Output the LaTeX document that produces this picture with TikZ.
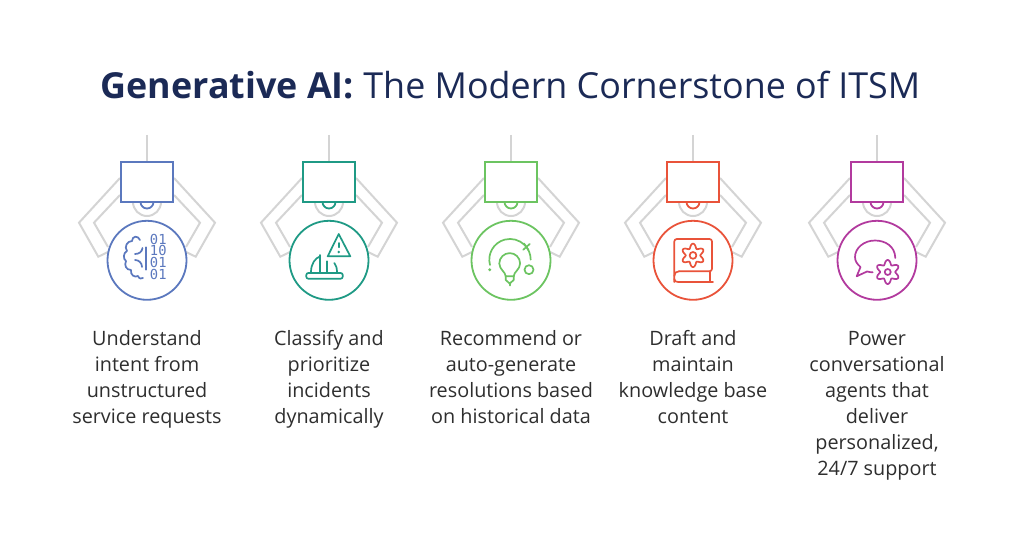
\documentclass[tikz,border=0pt]{standalone}
\usepackage{fontspec}
\setmainfont{Open Sans}
\newfontfamily\digitfont{DejaVu Sans Mono}
\definecolor{navy}{HTML}{1B2A56}
\definecolor{armgray}{HTML}{D4D4D4}
\definecolor{inkgray}{HTML}{2E2E2E}
\definecolor{gblue}{HTML}{5B78BE}
\definecolor{gteal}{HTML}{1F9A85}
\definecolor{ggreen}{HTML}{6CC461}
\definecolor{gred}{HTML}{E9533A}
\definecolor{gpurple}{HTML}{B23A9E}
\tikzset{
  arm/.style={armgray,line width=2pt,line join=miter},
  housing/.style={draw,fill=white,line width=1.8pt,minimum width=52.6pt,minimum height=39.4pt,inner sep=0pt},
  disc/.style={draw,fill=white,circle,line width=1.8pt,minimum size=79pt,inner sep=0pt},
  icon/.style={line width=1.7pt,line cap=round,line join=round},
  caption/.style={inkgray,anchor=north,align=center,font=\fontsize{19.8}{26}\selectfont,execute at begin node=\strut}
}
% six petal cog, centre and radius as arguments
\newcommand{\cogwheel}[4]{\draw[#1] plot[domain=0:360,samples=145,smooth] ({#2+(#4-2.2*cos(6*\x))*cos(\x)},{#3+(#4-2.2*cos(6*\x))*sin(\x)}) -- cycle;}
\begin{document}
\begin{tikzpicture}[x=1pt,y=-1pt]
\useasboundingbox (0,0) rectangle (1024,553);
\node[navy,font=\fontsize{35.85}{40}\selectfont] (title) at (510.5,85) {\textbf{Generative AI:} The Modern Cornerstone of ITSM};
% grippers
\foreach \x/\c/\i in {147/gblue/1,329/gteal/2,511/ggreen/3,693/gred/4,877/gpurple/5}{
  \coordinate (top\i) at (\x,135);
  \draw[arm] (\x-27,178)--(\x-68,222.7)--(\x-48.7,256.7)--(\x-39,252);
  \draw[arm] (\x-27,195)--(\x-53,222.7)--(\x-39,247);
  \draw[arm] (\x+27,178)--(\x+68,222.7)--(\x+48.7,256.7)--(\x+39,252);
  \draw[arm] (\x+27,195)--(\x+53,222.7)--(\x+39,247);
  \draw[arm] (\x+14,202) arc[start angle=0,end angle=180,radius=14];
  \draw[\c,line width=1.8pt] (\x+6.5,202) arc[start angle=0,end angle=180,radius=6.5];
  \node[housing,draw=\c] (box\i) at (\x,182) {};
  \draw[arm] (top\i) -- (box\i.north);
  \node[disc,draw=\c] (disc\i) at (\x,260.3) {};
}
% brain and bits
\begin{scope}[shift={(147,260)},gblue]
\draw[icon] (-1.3,-12.7)--(-1.3,9.7);
\node[font=\digitfont\fontsize{13.8}{11.8}\selectfont,align=center,inner sep=0pt] (bits) at (11.3,-3.2) {01\\10\\01\\01};
\draw[icon] (-7,-20) .. controls (-9,-25) and (-15,-24) .. (-15,-19)
  .. controls (-20,-19) and (-23,-13) .. (-20,-9)
  .. controls (-24,-7) and (-24,-1) .. (-21,1)
  .. controls (-23,5) and (-21,10) .. (-16,10)
  .. controls (-17,15) and (-12,18) .. (-9,16)
  .. controls (-8,19) and (-5,19) .. (-4,18);
\draw[icon] (-4.5,-12) .. controls (-5,-8) and (-8,-6) .. (-12,-6);
\draw[icon] (-5,7) .. controls (-5,3) and (-8,0) .. (-12,0);
\end{scope}
% warning and ship
\begin{scope}[shift={(329,260)},gteal]
\draw[icon] (9.7,-26)--(21.3,-3.7)--(-1.3,-3.7)--cycle;
\draw[icon] (9.7,-17)--(9.7,-12.7);
\fill (9.7,-8) circle (1.4pt);
\draw[icon,rounded corners=2pt] (-22.7,13) rectangle (13.7,18.7);
\draw[icon] (-18,12) .. controls (-18,4) and (-14,-2) .. (-8.7,-3.7);
\draw[icon] (-8.7,-5)--(-8.7,12);
\draw[icon] (-2,1.3)--(-2,12);
\draw[icon] (5.3,3) .. controls (7,5) and (8,8) .. (8,12);
\end{scope}
% light bulb
\begin{scope}[shift={(511,260)},ggreen]
\draw[icon] (-21,5) arc[start angle=165,end angle=360,radius=20.7];
\draw[icon] (12.3,-10.3)--(18.7,-16);
\draw[icon] (13,-16.5)--(17.5,-10);
\draw[icon] (18,9.7) circle (4.5pt);
\fill (-21.3,9.7) circle (1.6pt);
\draw[icon] (-5.3,16.3) .. controls (-5.3,12) and (-11.7,9.5) .. (-11.7,3.5)
  arc[start angle=180,end angle=360,radius=10.4]
  .. controls (9.1,9.5) and (2.7,12) .. (2.7,16.3) -- cycle;
\draw[icon] (-5.3,16.3)--(-5.3,20)--(-1.3,23.5)--(2.7,20)--(2.7,16.3);
\draw[icon] (-1.3,23.5)--(-1.3,25.5);
\end{scope}
% book with cog
\begin{scope}[shift={(693,260)},gred]
\draw[icon,rounded corners=2.5pt] (-14,11.3)--(19,11.3)--(19,-21)--(-18.7,-21)--(-18.7,22);
\draw[icon] (-14,11.3) .. controls (-17,11.3) and (-18.7,13) .. (-18.7,16);
\draw[icon] (-18.7,19) .. controls (-18.7,21) and (-17,22) .. (-15,22) -- (20,22);
\draw[icon] (17,11.3)--(17,22);
\cogwheel{icon}{0}{-4.6}{9.5}
\draw[icon] (0,-4.6) circle (3.4pt);
\end{scope}
% chat with cog
\begin{scope}[shift={(877,260)},gpurple]
\draw[icon] (18.3,-2) .. controls (18,-14) and (8,-19.5) .. (-2,-19.5)
  .. controls (-13,-19.5) and (-22,-12) .. (-22,-3)
  .. controls (-22,1) and (-20,4) .. (-16.5,7)
  -- (-20.3,16.3) -- (-10,11.5) .. controls (-8,12) and (-6,12.3) .. (-4.3,12.3);
\cogwheel{icon,fill=white}{10.7}{12}{9.8}
\draw[icon] (10.7,12) circle (3pt);
\end{scope}
% captions
\node[caption] (text1) at (147,326.5) {Understand\\intent from\\unstructured\\service requests};
\node[caption] (text2) at (329,326.5) {Classify and\\prioritize\\incidents\\dynamically};
\node[caption] (text3) at (511,326.5) {Recommend or\\auto-generate\\resolutions based\\on historical data};
\node[caption] (text4) at (693,326.5) {Draft and\\maintain\\knowledge base\\content};
\node[caption] (text5) at (877,327.5) {Power\\conversational\\agents that\\deliver\\personalized,\\24/7 support};
\end{tikzpicture}
\end{document}
